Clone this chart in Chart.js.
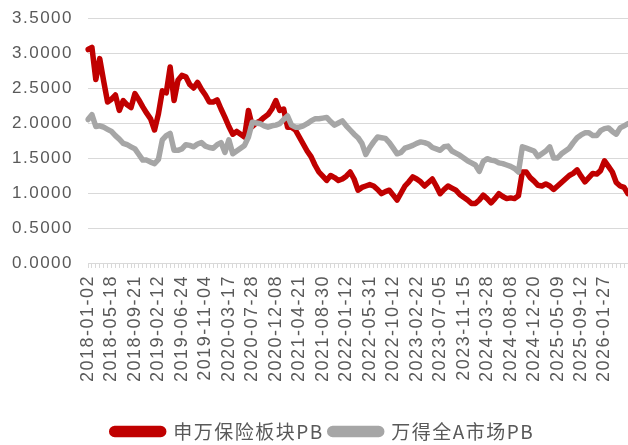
<!DOCTYPE html>
<html>
<head>
<meta charset="utf-8">
<script src="https://cdn.jsdelivr.net/npm/chart.js@4.4.1/dist/chart.umd.min.js"></script>
<style>
  html, body { margin: 0; padding: 0; background: #fff; }
  #pb { display: block; }
</style>
</head>
<body>
<canvas id="pb" width="628" height="445"></canvas>
<script>
// tick labels shown on the x axis (one every 6 points)
const tickLabels = [
    '2018-01-02', '2018-05-18', '2018-09-21', '2019-02-12', '2019-06-24',
    '2019-11-04', '2020-03-17', '2020-07-28', '2020-12-08', '2021-04-21',
    '2021-08-30', '2022-01-12', '2022-05-31', '2022-10-12', '2023-02-22',
    '2023-07-05', '2023-11-15', '2024-03-28', '2024-08-08', '2024-12-20',
    '2025-05-09', '2025-09-12', '2026-01-27'
];
const pointsPerTick = 6;

// 申万保险板块PB
const insurancePB = [
    3.05, 3.08, 2.62, 2.92, 2.60, 2.30, 2.34, 2.40, 2.18, 2.32,
    2.26, 2.22, 2.42, 2.33, 2.23, 2.14, 2.06, 1.90, 2.13, 2.46,
    2.43, 2.80, 2.32, 2.61, 2.68, 2.66, 2.55, 2.50, 2.58, 2.48,
    2.40, 2.30, 2.30, 2.33, 2.20, 2.08, 1.95, 1.84, 1.88, 1.84,
    1.80, 2.18, 1.95, 2.00, 2.03, 2.08, 2.12, 2.20, 2.32, 2.18,
    2.20, 1.94, 1.94, 1.90, 1.80, 1.70, 1.60, 1.52, 1.40, 1.30,
    1.24, 1.18, 1.25, 1.22, 1.18, 1.20, 1.24, 1.30, 1.20, 1.04,
    1.08, 1.10, 1.12, 1.10, 1.05, 0.99, 1.02, 1.04, 0.97, 0.90,
    1.00, 1.10, 1.16, 1.23, 1.20, 1.16, 1.10, 1.15, 1.20, 1.10,
    0.99, 1.05, 1.10, 1.07, 1.04, 0.98, 0.94, 0.90, 0.85, 0.85,
    0.90, 0.97, 0.92, 0.86, 0.92, 0.99, 0.95, 0.92, 0.93, 0.92,
    0.96, 1.30, 1.30, 1.22, 1.17, 1.11, 1.10, 1.13, 1.10, 1.05,
    1.10, 1.15, 1.20, 1.25, 1.28, 1.33, 1.24, 1.16, 1.22, 1.28,
    1.27, 1.32, 1.46, 1.38, 1.30, 1.15, 1.10, 1.08, 0.99
];

// 万得全A市场PB
const marketPB = [
    2.05, 2.12, 1.95, 1.96, 1.94, 1.91, 1.88, 1.82, 1.77, 1.71,
    1.69, 1.66, 1.63, 1.55, 1.47, 1.47, 1.44, 1.42, 1.48, 1.76,
    1.82, 1.85, 1.61, 1.61, 1.63, 1.69, 1.68, 1.66, 1.70, 1.72,
    1.67, 1.65, 1.64, 1.69, 1.72, 1.58, 1.76, 1.56, 1.60, 1.64,
    1.68, 1.80, 2.01, 2.00, 1.99, 1.96, 1.94, 1.96, 1.97, 1.99,
    2.05, 2.10, 1.97, 1.94, 1.94, 1.96, 1.99, 2.03, 2.06, 2.06,
    2.07, 2.08, 2.02, 1.97, 2.00, 2.03, 1.96, 1.90, 1.84, 1.79,
    1.71, 1.55, 1.65, 1.73, 1.80, 1.79, 1.78, 1.72, 1.64, 1.56,
    1.58, 1.64, 1.66, 1.68, 1.71, 1.73, 1.72, 1.70, 1.65, 1.63,
    1.61, 1.66, 1.67, 1.60, 1.57, 1.54, 1.50, 1.46, 1.43, 1.40,
    1.31, 1.45, 1.49, 1.47, 1.46, 1.43, 1.42, 1.40, 1.38, 1.35,
    1.30, 1.66, 1.64, 1.62, 1.60, 1.52, 1.56, 1.60, 1.66, 1.50,
    1.50, 1.56, 1.60, 1.64, 1.72, 1.79, 1.83, 1.86, 1.86, 1.82,
    1.82, 1.89, 1.92, 1.93, 1.88, 1.84, 1.93, 1.96, 1.99
];

const labels = insurancePB.map((v, i) => i % pointsPerTick === 0 ? (tickLabels[i / pointsPerTick] || '') : '');

const CJK = '"Noto Sans CJK SC", "Noto Sans", sans-serif';
const LAT = '"Liberation Sans", Arial, sans-serif';
const TXT = '#595959';
const GRID = '#D9D9D9';

// spaced-out glyphs like the original office export, legend nudged right
const tweaks = {
    id: 'tweaks',
    beforeLayout(chart) { chart.ctx.letterSpacing = '1.5px'; },
    afterLayout(chart) {
        if (chart.legend) {
            chart.legend.left += 9;
            chart.legend.right += 9;
        }
    },
    beforeDraw(chart) {
        chart.ctx.letterSpacing = '1.5px';
        chart.ctx.save();
        chart.ctx.fillStyle = '#fff';
        chart.ctx.fillRect(0, 0, chart.width, chart.height);
        chart.ctx.restore();
    }
};

new Chart(document.getElementById('pb'), {
    type: 'line',
    data: {
        labels: labels,
        datasets: [{
            label: '申万保险板块PB',
            data: insurancePB,
            borderColor: '#C00000',
            backgroundColor: '#C00000',
            borderWidth: 5.5,
            order: 1
        }, {
            label: '万得全A市场PB',
            data: marketPB,
            borderColor: '#A6A6A6',
            backgroundColor: '#A6A6A6',
            borderWidth: 5.5,
            order: 0
        }]
    },
    options: {
        responsive: false,
        animation: false,
        events: [],
        elements: {
            point: { radius: 0 },
            line: { tension: 0, borderJoinStyle: 'round', borderCapStyle: 'round' }
        },
        layout: { padding: { top: 18, right: 0, bottom: -6, left: 0 } },
        plugins: {
            tooltip: { enabled: false },
            legend: {
                position: 'bottom',
                labels: {
                    color: TXT,
                    font: { family: CJK, size: 19 },
                    boxWidth: 52,
                    boxHeight: 6,
                    padding: 6,
                    useBorderRadius: true,
                    borderRadius: 3,
                    sort: (a, b) => a.datasetIndex - b.datasetIndex
                }
            }
        },
        scales: {
            x: {
                offset: false,
                grid: {
                    drawOnChartArea: false,
                    drawTicks: true,
                    tickLength: 5,
                    color: GRID
                },
                border: { display: true, color: GRID },
                ticks: {
                    autoSkip: false,
                    maxRotation: 90,
                    minRotation: 90,
                    padding: 7,
                    color: TXT,
                    font: { family: LAT, size: 18 },
                    callback: (v, i) => labels[i]
                },
                afterFit(scale) {
                    scale.height = 153;
                    scale.paddingLeft = 0;
                    scale.paddingRight = 0;
                }
            },
            y: {
                min: 0,
                max: 3.5,
                grid: { color: GRID, drawTicks: false },
                border: { display: false },
                ticks: {
                    stepSize: 0.5,
                    padding: 15,
                    color: TXT,
                    font: { family: LAT, size: 17 },
                    callback: (v) => v.toFixed(4)
                },
                afterFit(scale) {
                    scale.width = 88;
                    scale.paddingTop = 0;
                    scale.paddingBottom = 0;
                }
            }
        }
    },
    plugins: [tweaks]
});
</script>
</body>
</html>
